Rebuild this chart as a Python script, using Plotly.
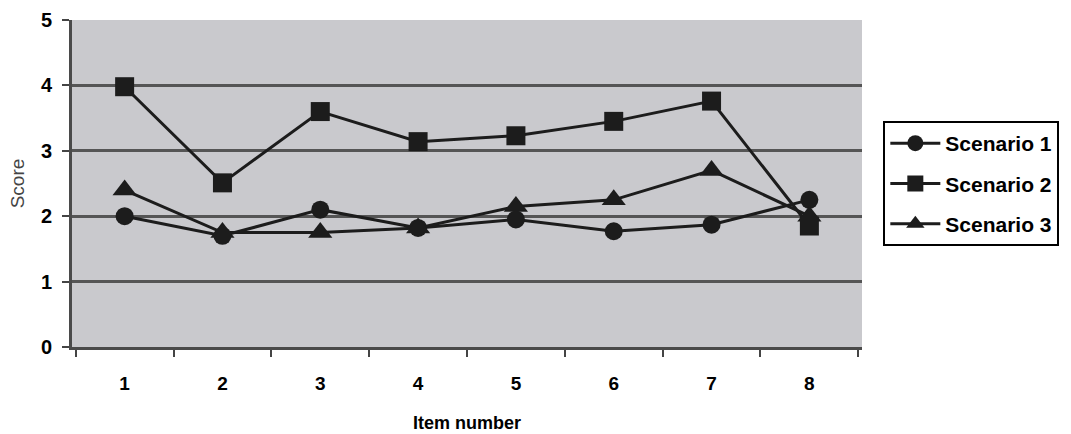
import plotly.graph_objects as go

# Mean score per item for each scenario
items = ["1", "2", "3", "4", "5", "6", "7", "8"]
scenario_1 = [2.0, 1.7, 2.1, 1.82, 1.95, 1.77, 1.87, 2.25]
scenario_2 = [3.98, 2.51, 3.6, 3.14, 3.23, 3.45, 3.76, 1.85]
scenario_3 = [2.4, 1.75, 1.75, 1.82, 2.15, 2.25, 2.7, 2.0]
y_ticks = [0, 1, 2, 3, 4, 5]

series = [
    ("Scenario 1", scenario_1, "circle", 18),
    ("Scenario 2", scenario_2, "square", 19),
    ("Scenario 3", scenario_3, "triangle-up", 21),
]

fig = go.Figure()
for name, values, symbol, size in series:
    fig.add_trace(go.Scatter(
        x=items, y=values, name=name, mode="lines+markers",
        legendgroup=name,
        line=dict(color="#1c1c1c", width=3),
        marker=dict(symbol=symbol, size=size, color="#1c1c1c"),
    ))

fig.update_layout(
    width=1071, height=434,
    margin=dict(l=72, r=209, t=20, b=87),
    paper_bgcolor="white",
    plot_bgcolor="#c9c9cd",
    font=dict(family="Liberation Sans, Arial, sans-serif", color="black"),
    showlegend=True,
    legend=dict(
        x=1.027, xanchor="left", y=0.5, yanchor="middle",
        bordercolor="black", borderwidth=2, bgcolor="white",
        font=dict(size=21, color="black", weight="bold"),
        tracegroupgap=10,
        itemwidth=50,
    ),
)

fig.update_xaxes(
    type="category",
    tickson="boundaries",
    automargin=False,
    ticks="outside", ticklen=7, tickwidth=2, tickcolor="#444",
    ticklabelstandoff=17,
    tickfont=dict(size=19, weight="bold"),
    showgrid=False,
    showline=True, linecolor="#4a4a4a", linewidth=3,
    title=dict(text="Item number", font=dict(size=18, weight="bold"), standoff=24),
)

fig.update_yaxes(
    range=[0, 5], tickvals=y_ticks,
    automargin=False,
    ticks="outside", ticklen=7, tickwidth=2, tickcolor="#444",
    ticklabelstandoff=6,
    tickfont=dict(size=20, weight="bold"),
    showgrid=True, gridcolor="#555555", gridwidth=3,
    zeroline=False,
    showline=True, linecolor="#4a4a4a", linewidth=3,
    title=dict(text="Score", font=dict(size=19, color="#444"), standoff=12),
)

fig.write_html("out.html")
